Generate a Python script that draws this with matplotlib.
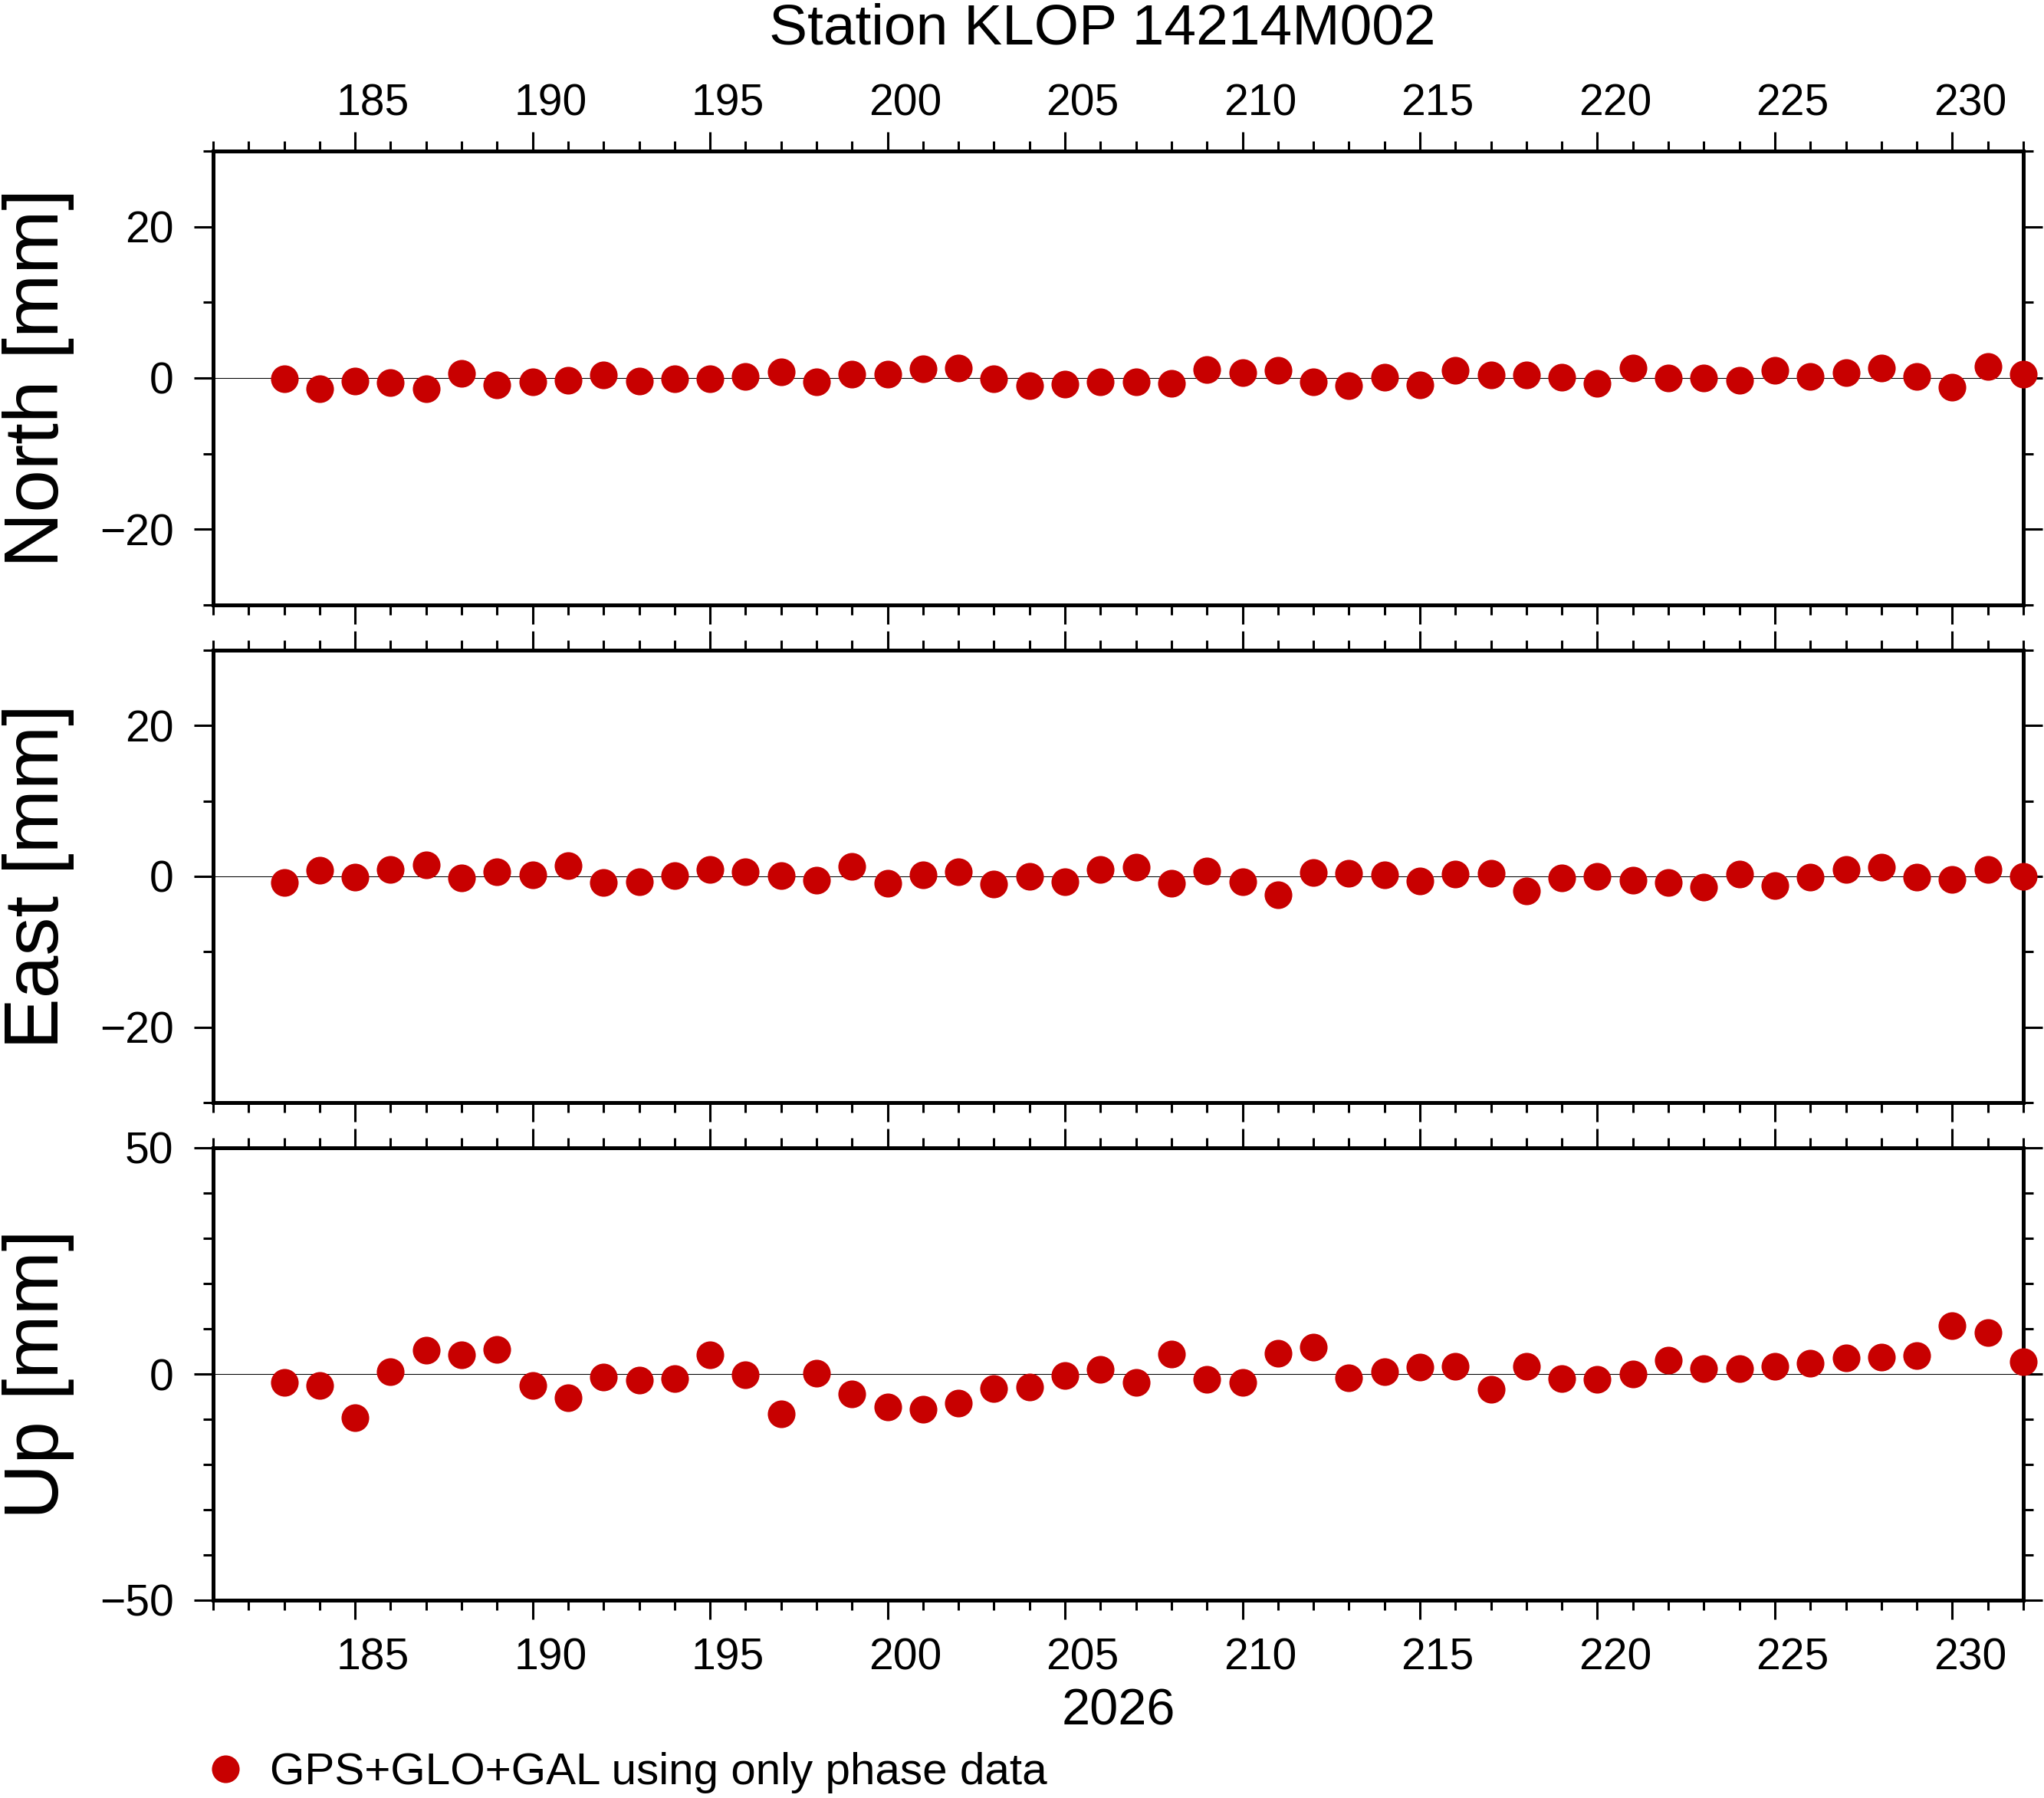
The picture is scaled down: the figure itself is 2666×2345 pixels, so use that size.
import matplotlib
matplotlib.use("Agg")
import matplotlib.pyplot as plt
import matplotlib.transforms as mtransforms
from matplotlib.ticker import MultipleLocator, NullFormatter

plt.rcParams['font.family'] = ['Liberation Sans', 'DejaVu Sans']

# ---------------- data ----------------
days = [183, 184, 185, 186, 187, 188, 189, 190, 191, 192, 193, 194, 195, 196, 197,
        198, 199, 200, 201, 202, 203, 204, 205, 206, 207, 208, 209, 210, 211, 212,
        213, 214, 215, 216, 217, 218, 219, 220, 221, 222, 223, 224, 225, 226, 227,
        228, 229, 230, 231, 232]

north = [-0.1, -1.41, -0.4, -0.61, -1.41, 0.61, -0.91, -0.5, -0.3, 0.4, -0.4, -0.1,
         -0.1, 0.2, 0.81, -0.5, 0.5, 0.5, 1.21, 1.31, -0.1, -1.01, -0.81, -0.5,
         -0.5, -0.71, 1.11, 0.71, 1.01, -0.5, -1.01, 0.1, -0.91, 1.01, 0.4, 0.4,
         0.1, -0.71, 1.31, 0.0, 0.0, -0.3, 1.01, 0.2, 0.71, 1.31, 0.2, -1.21, 1.52, 0.5]

east = [-0.81, 0.81, -0.1, 0.91, 1.52, -0.2, 0.61, 0.2, 1.41, -0.81, -0.71, 0.1,
        0.91, 0.61, 0.1, -0.5, 1.31, -0.91, 0.2, 0.61, -1.01, 0.0, -0.71, 0.91,
        1.21, -0.91, 0.71, -0.71, -2.42, 0.5, 0.4, 0.2, -0.61, 0.3, 0.4, -1.92,
        -0.2, 0.0, -0.5, -0.81, -1.41, 0.3, -1.21, -0.1, 0.91, 1.21, -0.1, -0.4, 0.91, 0.0]

up = [-1.86, -2.54, -9.6, 0.51, 5.25, 4.24, 5.42, -2.54, -5.25, -0.68, -1.36, -1.02,
      4.24, -0.17, -8.81, 0.17, -4.41, -7.29, -7.8, -6.44, -3.22, -2.88, -0.34, 1.02,
      -1.86, 4.41, -1.19, -1.86, 4.58, 5.93, -0.85, 0.51, 1.53, 1.69, -3.39, 1.69,
      -1.02, -1.19, 0.0, 3.05, 1.19, 1.19, 1.69, 2.37, 3.56, 3.73, 4.07, 10.68, 9.15, 2.71]

xtick_values = [185, 190, 195, 200, 205, 210, 215, 220, 225, 230]
xtick_labels = ['185', '190', '195', '200', '205', '210', '215', '220', '225', '230']

panel_names = ['North [mm]', 'East [mm]', 'Up [mm]']
panel_series = [north, east, up]
panel_ylims = [(-30, 30), (-30, 30), (-50, 50)]
panel_major = [20, 20, 50]
panel_minor = [10, 10, 10]

title_text = 'Station KLOP 14214M002'
year_text = '2026'
legend_text = 'GPS+GLO+GAL using only phase data'

# ---------------- layout ----------------
W, H = 2666, 2345
DPI = 100
fig = plt.figure(figsize=(W / DPI, H / DPI), dpi=DPI)

left_px, right_px = 278, 2639
panel_px = [(197, 789), (848, 1438), (1497, 2087)]
xlim = (181, 232)
red = '#c80000'

TICK_FS = 41
axes = []
for i, (top, bot) in enumerate(panel_px):
    ax = fig.add_axes([left_px / W, 1 - bot / H, (right_px - left_px) / W, (bot - top) / H])
    axes.append(ax)
    ax.set_xlim(*xlim)
    ax.set_ylim(*panel_ylims[i])
    ax.axhline(0, color='black', lw=0.75, zorder=1)
    h, = ax.plot(days, panel_series[i], linestyle='none', marker='o', ms=26,
                 mec='none', color=red, clip_on=False, zorder=3)
    ax.xaxis.set_major_locator(MultipleLocator(5))
    ax.xaxis.set_minor_locator(MultipleLocator(1))
    ax.xaxis.set_major_formatter(NullFormatter())
    ax.yaxis.set_major_locator(MultipleLocator(panel_major[i]))
    ax.yaxis.set_minor_locator(MultipleLocator(panel_minor[i]))
    ax.tick_params(axis='both', which='both', direction='out', top=True, right=True,
                   bottom=True, left=True, width=2.2, color='black')
    ax.tick_params(axis='both', which='major', length=18)
    ax.tick_params(axis='both', which='minor', length=9.5)
    ax.tick_params(axis='y', which='major', labelsize=TICK_FS, pad=19, labelright=False)
    for sp in ax.spines.values():
        sp.set_linewidth(3.6)
    fig.text(3 / W, 1 - ((top + bot) / 2) / H, panel_names[i], rotation=90,
             ha='left', va='center', fontsize=72)

# x tick labels (annotations centred within the day interval, GMT style)
def add_xlabels(ax, where):
    trans = mtransforms.blended_transform_factory(ax.transData, ax.transAxes)
    for v, lab in zip(xtick_values, xtick_labels):
        if where == 'top':
            t = mtransforms.offset_copy(trans, fig=fig, x=0, y=46.5 * 72 / DPI, units='points')
            ax.text(v + 0.5, 1, lab, transform=t, ha='center', va='baseline', fontsize=TICK_FS)
        else:
            t = mtransforms.offset_copy(trans, fig=fig, x=0, y=-91 * 72 / DPI, units='points')
            ax.text(v + 0.5, 0, lab, transform=t, ha='center', va='baseline', fontsize=TICK_FS)

add_xlabels(axes[0], 'top')
add_xlabels(axes[2], 'bottom')

# title and year label
fig.text(1438 / W, 1 - 57 / H, title_text, ha='center', va='baseline', fontsize=54)
fig.text(((left_px + right_px) / 2) / W, 1 - 2250 / H, year_text, ha='center',
         va='baseline', fontsize=48)

# legend
fig.legend(handles=[h], labels=[legend_text], loc='center left',
           bbox_to_anchor=(276.5 / W, 1 - 2312 / H), frameon=False, fontsize=42,
           handlelength=0.6, handletextpad=0.69, borderpad=0, borderaxespad=0,
           numpoints=1)

fig.savefig('out.png', dpi=DPI)
